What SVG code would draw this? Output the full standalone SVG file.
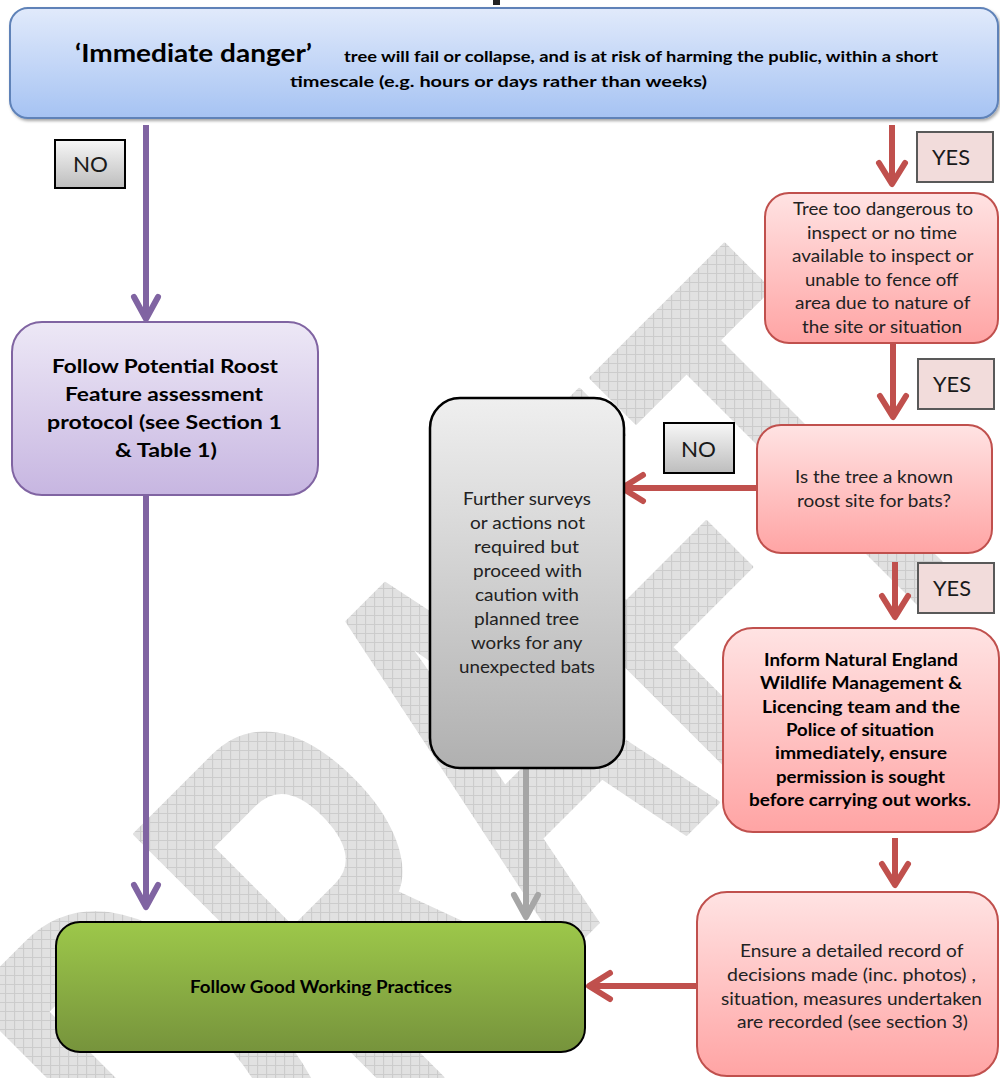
<svg xmlns="http://www.w3.org/2000/svg" width="1000" height="1078" viewBox="0 0 1000 1078">
<style>
.t{font-family:Lato,"Liberation Sans","DejaVu Sans",sans-serif;fill:#222}
.b{font-weight:bold;fill:#000}
.r17{font-size:17px}
.r16{font-size:16.5px}
.b16{font-size:16.5px}
.lbl{font-size:22px;fill:#1a1a1a}
.ln{fill:none;stroke-width:6}
.pu{stroke:#8064a2}
.rd{stroke:#c0504d}
.gy{stroke:#a6a6a6}
.yes{fill:#f2dcdb;stroke:#595959;stroke-width:2}
.no{fill:url(#gNo);stroke:#000;stroke-width:2}
</style>
<defs>
<linearGradient id="gBlue" x1="0" y1="0" x2="0" y2="1"><stop offset="0" stop-color="#e1eafb"/><stop offset="1" stop-color="#a6c3f3"/></linearGradient>
<linearGradient id="gPurple" x1="0" y1="0" x2="0" y2="1"><stop offset="0" stop-color="#ede8f6"/><stop offset="1" stop-color="#c7b6e1"/></linearGradient>
<linearGradient id="gGray" x1="0" y1="0" x2="0" y2="1"><stop offset="0" stop-color="#efefef"/><stop offset="1" stop-color="#b0b0b0"/></linearGradient>
<linearGradient id="gRed" x1="0" y1="0" x2="0" y2="1"><stop offset="0" stop-color="#ffe3e3"/><stop offset="1" stop-color="#ffa4a4"/></linearGradient>
<linearGradient id="gGreen" x1="0" y1="0" x2="0" y2="1"><stop offset="0" stop-color="#9dc84a"/><stop offset="1" stop-color="#76933c"/></linearGradient>
<linearGradient id="gNo" x1="0" y1="0" x2="0" y2="1"><stop offset="0" stop-color="#f7f7f7"/><stop offset="1" stop-color="#bdbdbd"/></linearGradient>
<pattern id="grid" width="9" height="9" patternUnits="userSpaceOnUse" patternTransform="scale(1.7544,1) rotate(45)">
<rect width="9" height="9" fill="#e1e1e1"/>
<path d="M0,0.5 H9 M0.5,0 V9" stroke="#cbcbcb" stroke-width="1"/>
</pattern>
<marker id="mPu" markerUnits="userSpaceOnUse" viewBox="-30 -20 40 40" markerWidth="40" markerHeight="40" refX="0" refY="0" orient="auto"><path d="M-22,-12 L0,0 L-22,12" fill="none" stroke="#8064a2" stroke-width="6" stroke-linecap="round" stroke-linejoin="round"/></marker>
<marker id="mRd" markerUnits="userSpaceOnUse" viewBox="-30 -20 40 40" markerWidth="40" markerHeight="40" refX="0" refY="0" orient="auto"><path d="M-21,-13 L0,0 L-21,13" fill="none" stroke="#c0504d" stroke-width="6" stroke-linecap="round" stroke-linejoin="round"/></marker>
<marker id="mGy" markerUnits="userSpaceOnUse" viewBox="-30 -20 40 40" markerWidth="40" markerHeight="40" refX="0" refY="0" orient="auto"><path d="M-22,-12 L0,0 L-22,12" fill="none" stroke="#a6a6a6" stroke-width="6" stroke-linecap="round" stroke-linejoin="round"/></marker>
<filter id="sh" x="-5%" y="-5%" width="110%" height="120%"><feDropShadow dx="1.5" dy="2" stdDeviation="1.5" flood-opacity="0.35"/></filter>
</defs>

<rect width="1000" height="1078" fill="#fff"/>

<g id="watermark">
<text transform="translate(230,1290) rotate(-45) scale(0.57,1)" x="0" y="0" font-family="'Liberation Sans',sans-serif" font-weight="bold" font-size="566" fill="url(#grid)" stroke="url(#grid)" stroke-width="4" stroke-linejoin="round">DRAFT</text>
</g>

<g id="connectors">
<rect x="493" y="0" width="7" height="5" fill="#222"/>
<path class="ln pu" d="M146,125 V319" marker-end="url(#mPu)"/>
<path class="ln pu" d="M146,495 V907" marker-end="url(#mPu)"/>
<path class="ln gy" d="M526,768 V917" marker-end="url(#mGy)"/>
<path class="ln rd" d="M892,125 V184" marker-end="url(#mRd)"/>
<path class="ln rd" d="M893,343 V417" marker-end="url(#mRd)"/>
<path class="ln rd" d="M895,562 V617" marker-end="url(#mRd)"/>
<path class="ln rd" d="M895,838 V885" marker-end="url(#mRd)"/>
<path class="ln rd" d="M757,488 H622" marker-end="url(#mRd)"/>
<path class="ln rd" d="M697,986 H589" marker-end="url(#mRd)"/>
</g>

<g id="labels">
<g id="label-no-1"><rect class="no" x="55" y="140" width="70" height="48"/><text class="t lbl" x="73" y="172" textLength="35" lengthAdjust="spacingAndGlyphs">NO</text></g>
<g id="label-yes-1"><rect class="yes" x="917" y="132" width="76" height="50"/><text class="t lbl" x="932" y="165" textLength="38" lengthAdjust="spacingAndGlyphs">YES</text></g>
<g id="label-yes-2"><rect class="yes" x="918" y="359" width="76" height="50"/><text class="t lbl" x="933" y="392" textLength="38" lengthAdjust="spacingAndGlyphs">YES</text></g>
<g id="label-no-2"><rect class="no" x="664" y="423" width="70" height="50"/><text class="t lbl" x="681" y="457" textLength="35" lengthAdjust="spacingAndGlyphs">NO</text></g>
<g id="label-yes-3"><rect class="yes" x="918" y="563" width="76" height="50"/><text class="t lbl" x="933" y="596" textLength="38" lengthAdjust="spacingAndGlyphs">YES</text></g>
</g>

<g id="node-immediate-danger">
<rect x="10" y="8" width="988" height="110" rx="18" fill="url(#gBlue)" stroke="#5f82b8" stroke-width="2" filter="url(#sh)"/>
<text class="t b" x="75" y="62" font-size="24" textLength="237" lengthAdjust="spacingAndGlyphs">‘Immediate danger’</text>
<text class="t b" x="344" y="62" font-size="15" textLength="594" lengthAdjust="spacingAndGlyphs">tree will fail or collapse, and is at risk of harming the public, within a short</text>
<text class="t b" x="290" y="87" font-size="15" textLength="417" lengthAdjust="spacingAndGlyphs">timescale (e.g. hours or days rather than weeks)</text>
</g>

<g id="node-prf-protocol">
<rect x="12" y="322" width="306" height="173" rx="30" fill="url(#gPurple)" stroke="#8064a2" stroke-width="2"/>
<text class="t b" font-size="19">
<tspan x="52" y="373" textLength="226" lengthAdjust="spacingAndGlyphs">Follow Potential Roost</tspan>
<tspan x="65" y="401" textLength="198" lengthAdjust="spacingAndGlyphs">Feature assessment</tspan>
<tspan x="47" y="429" textLength="235" lengthAdjust="spacingAndGlyphs">protocol  (see Section 1</tspan>
<tspan x="115" y="457" textLength="102" lengthAdjust="spacingAndGlyphs">&amp; Table 1)</tspan>
</text>
</g>

<g id="node-further-surveys">
<rect x="430" y="398" width="194" height="370" rx="30" fill="url(#gGray)" stroke="#000" stroke-width="2.5"/>
<text class="t r16">
<tspan x="463" y="505" textLength="128" lengthAdjust="spacingAndGlyphs">Further surveys</tspan>
<tspan x="470" y="529" textLength="115" lengthAdjust="spacingAndGlyphs">or actions not</tspan>
<tspan x="474" y="553" textLength="105" lengthAdjust="spacingAndGlyphs">required but</tspan>
<tspan x="473" y="577" textLength="109" lengthAdjust="spacingAndGlyphs">proceed with</tspan>
<tspan x="475" y="601" textLength="104" lengthAdjust="spacingAndGlyphs">caution with</tspan>
<tspan x="474" y="625" textLength="105" lengthAdjust="spacingAndGlyphs">planned tree</tspan>
<tspan x="471" y="649" textLength="111" lengthAdjust="spacingAndGlyphs">works for any</tspan>
<tspan x="459" y="673" textLength="136" lengthAdjust="spacingAndGlyphs">unexpected bats</tspan>
</text>
</g>

<g id="node-too-dangerous">
<rect x="765" y="193" width="233" height="150" rx="24" fill="url(#gRed)" stroke="#c0504d" stroke-width="2"/>
<text class="t r17">
<tspan x="793" y="215" textLength="180" lengthAdjust="spacingAndGlyphs">Tree too dangerous to</tspan>
<tspan x="807" y="239" textLength="150" lengthAdjust="spacingAndGlyphs">inspect or no time</tspan>
<tspan x="792" y="262" textLength="181" lengthAdjust="spacingAndGlyphs">available to inspect or</tspan>
<tspan x="805" y="286" textLength="153" lengthAdjust="spacingAndGlyphs">unable to fence off</tspan>
<tspan x="795" y="309" textLength="175" lengthAdjust="spacingAndGlyphs">area due to nature of</tspan>
<tspan x="802" y="333" textLength="160" lengthAdjust="spacingAndGlyphs">the site or situation</tspan>
</text>
</g>

<g id="node-known-roost">
<rect x="757" y="425" width="235" height="128" rx="24" fill="url(#gRed)" stroke="#c0504d" stroke-width="2"/>
<text class="t r17">
<tspan x="795" y="483" textLength="158" lengthAdjust="spacingAndGlyphs">Is the tree a known</tspan>
<tspan x="797" y="507" textLength="154" lengthAdjust="spacingAndGlyphs">roost site for bats?</tspan>
</text>
</g>

<g id="node-inform-ne">
<rect x="723" y="628" width="276" height="204" rx="30" fill="url(#gRed)" stroke="#c0504d" stroke-width="2"/>
<text class="t b b16">
<tspan x="764" y="666" textLength="194" lengthAdjust="spacingAndGlyphs">Inform Natural England</tspan>
<tspan x="760" y="689" textLength="202" lengthAdjust="spacingAndGlyphs">Wildlife Management &amp;</tspan>
<tspan x="762" y="713" textLength="198" lengthAdjust="spacingAndGlyphs">Licencing team  and the</tspan>
<tspan x="786" y="736" textLength="148" lengthAdjust="spacingAndGlyphs">Police of situation</tspan>
<tspan x="775" y="759" textLength="172" lengthAdjust="spacingAndGlyphs">immediately, ensure</tspan>
<tspan x="776" y="783" textLength="169" lengthAdjust="spacingAndGlyphs">permission is sought</tspan>
<tspan x="749" y="806" textLength="222" lengthAdjust="spacingAndGlyphs">before carrying out works.</tspan>
</text>
</g>

<g id="node-record">
<rect x="697" y="892" width="301" height="184" rx="30" fill="url(#gRed)" stroke="#c0504d" stroke-width="2"/>
<text class="t r16">
<tspan x="740" y="957" textLength="223" lengthAdjust="spacingAndGlyphs">Ensure a detailed record of</tspan>
<tspan x="727" y="981" textLength="249" lengthAdjust="spacingAndGlyphs">decisions  made (inc. photos) ,</tspan>
<tspan x="721" y="1005" textLength="261" lengthAdjust="spacingAndGlyphs">situation, measures undertaken</tspan>
<tspan x="737" y="1028" textLength="231" lengthAdjust="spacingAndGlyphs">are recorded (see section 3)</tspan>
</text>
</g>

<g id="node-good-practice">
<rect x="56" y="922" width="529" height="130" rx="24" fill="url(#gGreen)" stroke="#000" stroke-width="2"/>
<text class="t b b16" x="190" y="993" textLength="262" lengthAdjust="spacingAndGlyphs">Follow Good Working Practices</text>
</g>
</svg>
